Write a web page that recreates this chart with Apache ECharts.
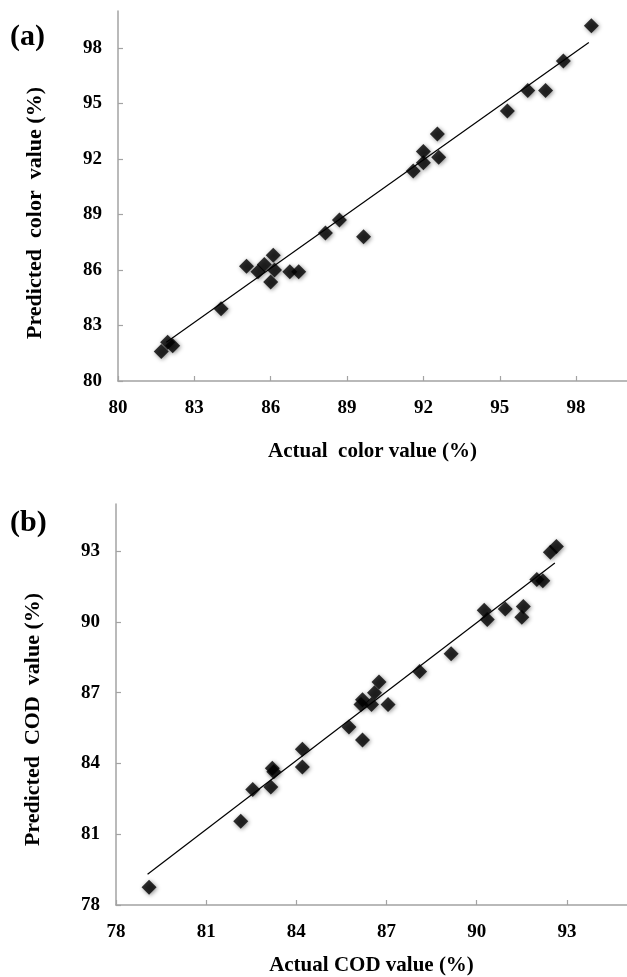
<!DOCTYPE html>
<html>
<head>
<meta charset="utf-8">
<script src="https://cdn.jsdelivr.net/npm/echarts@6/dist/echarts.min.js"></script>
<style>
  html, body { margin: 0; padding: 0; background: #fff; }
  #chart { width: 627px; height: 977px; }
</style>
</head>
<body>
<div id="chart"></div>
<script>
// (a) colour removal: actual vs predicted
const colorActual = [98.6, 97.5, 96.1, 96.8, 95.3, 92.55, 92.0, 92.6, 92.0, 91.6,
    88.7, 88.15, 89.65, 86.1, 85.75, 85.05, 85.5, 86.15, 86.75, 87.1, 86.0,
    84.05, 81.95, 82.15, 81.7];
const colorPredicted = [99.2, 97.3, 95.7, 95.7, 94.6, 93.35, 92.4, 92.1, 91.8, 91.35,
    88.7, 88.0, 87.8, 86.8, 86.3, 86.2, 85.9, 86.0, 85.9, 85.9, 85.35,
    83.9, 82.1, 81.9, 81.6];
const colorFit = [[81.9, 82.1], [98.5, 98.3]];
const colorTicks = [80, 83, 86, 89, 92, 95, 98];

// (b) COD removal: actual vs predicted
const codActual = [92.65, 92.45, 92.0, 92.2, 90.25, 90.35, 90.95, 91.55, 91.5, 89.15,
    88.1, 86.75, 86.6, 86.2, 86.15, 86.5, 87.05, 85.75, 86.2, 84.2, 84.2,
    83.2, 83.25, 83.15, 82.55, 82.15, 79.1];
const codPredicted = [93.2, 92.95, 91.8, 91.75, 90.5, 90.1, 90.55, 90.65, 90.2, 88.65,
    87.9, 87.45, 87.0, 86.7, 86.5, 86.5, 86.5, 85.55, 85.0, 84.6, 83.85,
    83.8, 83.65, 83.0, 82.9, 81.55, 78.75];
const codFit = [[79.05, 79.3], [92.6, 92.5]];
const codTicks = [78, 81, 84, 87, 90, 93];

const chart = echarts.init(document.getElementById('chart'));

const font = 'Liberation Serif, Times New Roman, serif';
const axisGrey = '#a3a3a3';

function pairs(xs, ys) {
    return xs.map((x, i) => [x, ys[i]]);
}

function valueAxis(gridIndex, min, max, ticks, name, nameGap, nameSize, labelMargin, namePad) {
    return {
        type: 'value',
        gridIndex: gridIndex,
        min: min,
        max: max,
        interval: 3,
        splitLine: { show: false },
        axisLine: { show: true, lineStyle: { color: axisGrey, width: 1.5 } },
        axisTick: { show: true, inside: true, length: 5, customValues: ticks,
            lineStyle: { color: axisGrey, width: 1.2 } },
        axisLabel: { customValues: ticks, color: '#000', fontFamily: font,
            fontWeight: 'bold', fontSize: 19, margin: labelMargin },
        name: name,
        nameGap: nameGap,
        nameLocation: 'middle',
        nameTextStyle: { color: '#000', fontFamily: font, fontWeight: 'bold',
            fontSize: nameSize, padding: namePad || 0 }
    };
}

const diamond = {
    type: 'scatter',
    symbol: 'diamond',
    symbolSize: 15,
    itemStyle: { color: '#000', shadowBlur: 4, shadowColor: 'rgba(0,0,0,0.55)',
        shadowOffsetX: 1, shadowOffsetY: 1 },
    z: 3
};

const fitLine = {
    type: 'line',
    symbol: 'none',
    lineStyle: { color: '#000', width: 1.2 },
    z: 2
};

chart.setOption({
    animation: false,
    backgroundColor: '#fff',
    grid: [
        { left: 118, top: 11, width: 518, height: 370 },
        { left: 116, top: 504, width: 524, height: 401 }
    ],
    xAxis: [
        valueAxis(0, 80, 100, colorTicks, 'Actual  color value (%)', 60, 21, 18),
        valueAxis(1, 78, 95, codTicks, 'Actual COD value (%)', 50, 21, 18)
    ],
    yAxis: [
        valueAxis(0, 80, 100, colorTicks, 'Predicted  color  value (%)', 72, 22, 16, [0, 34, 0, 0]),
        valueAxis(1, 78, 95, codTicks, 'Predicted  COD  value (%)', 72, 22, 16, [0, 30, 0, 0])
    ],
    graphic: [
        { type: 'text', left: 10, top: 22,
          style: { text: '(a)', fill: '#000', font: 'bold 30px ' + font } },
        { type: 'text', left: 10, top: 508,
          style: { text: '(b)', fill: '#000', font: 'bold 30px ' + font } }
    ],
    series: [
        Object.assign({}, fitLine, { xAxisIndex: 0, yAxisIndex: 0, data: colorFit }),
        Object.assign({}, diamond, { xAxisIndex: 0, yAxisIndex: 0, data: pairs(colorActual, colorPredicted) }),
        Object.assign({}, fitLine, { xAxisIndex: 1, yAxisIndex: 1, data: codFit }),
        Object.assign({}, diamond, { xAxisIndex: 1, yAxisIndex: 1, data: pairs(codActual, codPredicted) })
    ]
});

window.addEventListener('resize', () => chart.resize());
</script>
</body>
</html>
